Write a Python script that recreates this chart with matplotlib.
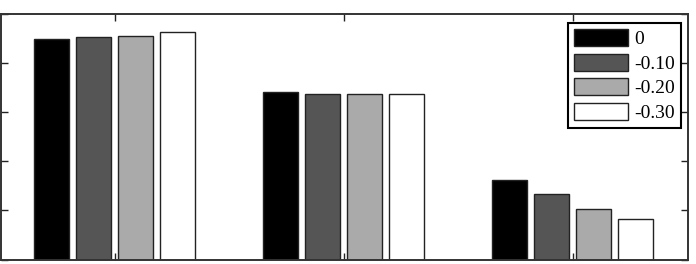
import matplotlib.pyplot as plt
import numpy as np

# valores (eje y de 0 a 5, sin etiquetas visibles)
grupos = [1, 2, 3]
series = ["0", "-0.10", "-0.20", "-0.30"]
v_0 = [4.48, 3.41, 1.62]
v_010 = [4.52, 3.37, 1.33]
v_020 = [4.55, 3.37, 1.03]
v_030 = [4.62, 3.36, 0.82]
valores = [v_0, v_010, v_020, v_030]
colores = ["#000000", "#555555", "#aaaaaa", "#ffffff"]

plt.rcParams['font.family'] = ['Liberation Serif', 'DejaVu Serif']

fig = plt.figure(figsize=(6.96, 2.64), dpi=100, facecolor='w')
ax = fig.add_axes([1/696, 4.5/264, 687/696, 246/264])

x = np.array(grupos)
paso = 0.1835
ancho = 0.15
for i, (nombre, vals) in enumerate(zip(series, valores)):
    ax.bar(x + (i - 1.5)*paso - 0.004, vals, width=ancho, color=colores[i],
           edgecolor="#222222", linewidth=1.0, label=nombre)

ax.set_xlim(0.5, 3.5)
ax.set_ylim(0, 5)
ax.set_xticks(grupos)
ax.set_yticks(np.arange(0, 6, 1))
ax.set_xticklabels([])
ax.set_yticklabels([])
ax.tick_params(direction='in', length=5, width=1, top=True, right=True,
               color="#222222")
for s in ax.spines.values():
    s.set_linewidth(1.4)
    s.set_color("#333333")

leg = ax.legend(loc='upper right', bbox_to_anchor=(681/696, (264-23)/264),
                bbox_transform=fig.transFigure, borderaxespad=0,
                fontsize=14, handlelength=2.8, handleheight=0.95,
                labelspacing=0.28, handletextpad=0.3, borderpad=0.32,
                fancybox=False, framealpha=1, edgecolor='black')
leg.get_frame().set_linewidth(1.5)

fig.savefig("out.png", dpi=100)
